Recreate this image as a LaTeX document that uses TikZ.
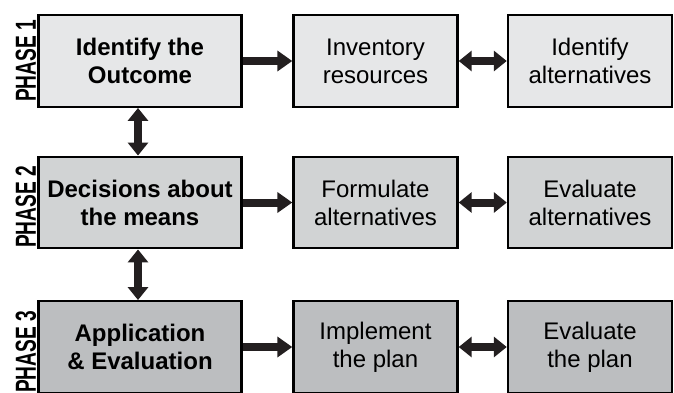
\documentclass[tikz,border=0pt]{standalone}
\usepackage{fontspec}
\setmainfont{Liberation Sans}
\usetikzlibrary{arrows.meta}
\definecolor{rowa}{RGB}{230,231,232}
\definecolor{rowb}{RGB}{209,211,212}
\definecolor{rowc}{RGB}{188,190,192}
\definecolor{arrcol}{RGB}{35,31,32}
\newcommand{\phaselbl}[1]{\scalebox{0.66}[1]{\fontsize{29}{29}\selectfont\bfseries #1}}
\begin{document}
\begin{tikzpicture}[x=1pt,y=-1pt,
	box/.style={draw=black,line width=2.4pt,align=center,inner sep=0pt,minimum height=91.5pt},
	mainbox/.style={box,minimum width=203pt,font=\fontsize{24}{28}\selectfont\bfseries},
	sidebox/.style={box,minimum width=164pt,font=\fontsize{24}{28}\selectfont},
	fwd/.style={draw=arrcol,line width=8pt,-{Triangle[width=20pt,length=15pt]}},
	both/.style={draw=arrcol,line width=8pt,{Triangle[width=20pt,length=13pt]}-{Triangle[width=20pt,length=13pt]}}]
			\useasboundingbox (0,0) rectangle (674,392);
			\node[rotate=90] at (26,61) (ph1) {\phaselbl{PHASE 1}};
			\node[rotate=90] at (26,207) (ph2) {\phaselbl{PHASE 2}};
			\node[rotate=90] at (26,352) (ph3) {\phaselbl{PHASE 3}};
			\node[mainbox,fill=rowa] at (140,61) (outcome) {Identify the\\Outcome};
			\node[sidebox,fill=rowa] at (375.5,61) (invres) {Inventory\\resources};
			\node[sidebox,fill=rowa] at (590,61) (idalt) {Identify\\alternatives};
			\node[mainbox,fill=rowb] at (140,202.5) (means) {Decisions about\\the means};
			\node[sidebox,fill=rowb] at (375.5,202.5) (formalt) {Formulate\\alternatives};
			\node[sidebox,fill=rowb] at (590,202.5) (evalalt) {Evaluate\\alternatives};
			\node[mainbox,fill=rowc] at (140,347) (appeval) {Application\\\& Evaluation};
			\node[sidebox,fill=rowc] at (375.5,347) (implan) {Implement\\the plan};
			\node[sidebox,fill=rowc] at (590,347) (evalplan) {Evaluate\\the plan};
			\draw[fwd] (outcome)--(invres);
			\draw[fwd] (means)--(formalt);
			\draw[fwd] (appeval)--(implan);
			\draw[both] (invres)--(idalt);
			\draw[both] (formalt)--(evalalt);
			\draw[both] (implan)--(evalplan);
			\draw[both] ([xshift=-2pt]outcome.south)--([xshift=-2pt]means.north);
			\draw[both] ([xshift=-2pt]means.south)--([xshift=-2pt]appeval.north);
		\end{tikzpicture}
\end{document}
